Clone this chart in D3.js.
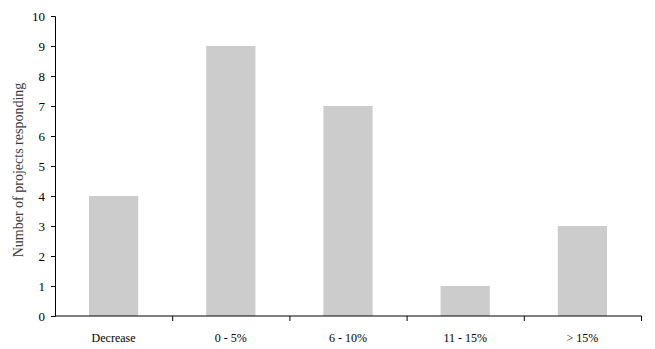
<!DOCTYPE html>
<html>
<head>
<meta charset="utf-8">
<script src="https://cdn.jsdelivr.net/npm/d3@7"></script>
<style>
  body { margin: 0; background: #fff; }
</style>
</head>
<body>
<svg id="drawing_region"></svg>
<script>
// data
const categories = ["Decrease", "0 - 5%", "6 - 10%", "11 - 15%", "> 15%"];
const counts = [4, 9, 7, 1, 3];
const yTicks = [0, 1, 2, 3, 4, 5, 6, 7, 8, 9, 10];

const serif = "'Liberation Serif', 'Times New Roman', serif";

const config = {
    width: 655,
    height: 349,
    margin: {top: 16, right: 14, bottom: 33, left: 55}
};

const svg = d3.select('#drawing_region')
    .attr('width', config.width)
    .attr('height', config.height);

const innerW = config.width - config.margin.left - config.margin.right;
const innerH = config.height - config.margin.top - config.margin.bottom;

const chart = svg.append('g')
    .attr('transform', `translate(${config.margin.left}, ${config.margin.top})`);

const x = d3.scaleBand()
    .domain(categories)
    .range([0, innerW])
    .paddingInner(0.58)
    .paddingOuter(0.29);

const xEdge = d3.scaleLinear()
    .domain([0, categories.length])
    .range([0, innerW]);

const y = d3.scaleLinear()
    .domain([0, 10])
    .range([innerH, 0]);

// bars
chart.selectAll('rect.bar')
    .data(counts)
    .enter()
    .append('rect')
    .attr('class', 'bar')
    .attr('x', (d, i) => x(categories[i]))
    .attr('y', d => y(d))
    .attr('width', x.bandwidth())
    .attr('height', d => innerH - y(d))
    .attr('fill', '#cccccc');

// y axis
const yAxis = chart.append('g')
    .call(d3.axisLeft(y).tickValues(yTicks).tickSize(4).tickPadding(6).tickFormat(d3.format('d')));
yAxis.attr('font-family', serif).attr('font-size', 13);
yAxis.selectAll('text').attr('fill', '#000');
yAxis.select('.domain').attr('stroke', '#000');

// x axis: line with ticks at band boundaries
const xAxis = chart.append('g')
    .attr('transform', `translate(0, ${innerH})`)
    .call(d3.axisBottom(xEdge).tickValues(d3.range(1, categories.length + 1)).tickSize(5).tickFormat(''));
xAxis.select('.domain').attr('stroke', '#000').attr('d', `M0.5,0H${innerW + 0.5}`);

// category labels
chart.selectAll('text.cat')
    .data(categories)
    .enter()
    .append('text')
    .attr('class', 'cat')
    .attr('x', d => x(d) + x.bandwidth() / 2)
    .attr('y', innerH + 26)
    .attr('text-anchor', 'middle')
    .attr('font-family', serif)
    .attr('font-size', 12)
    .attr('fill', '#000')
    .text(d => d);

// y axis title
svg.append('text')
    .attr('transform', `translate(23, 170) rotate(-90)`)
    .attr('text-anchor', 'middle')
    .attr('font-family', serif)
    .attr('font-size', 14)
    .attr('fill', '#3a3a3a')
    .text('Number of projects responding');
</script>
</body>
</html>
